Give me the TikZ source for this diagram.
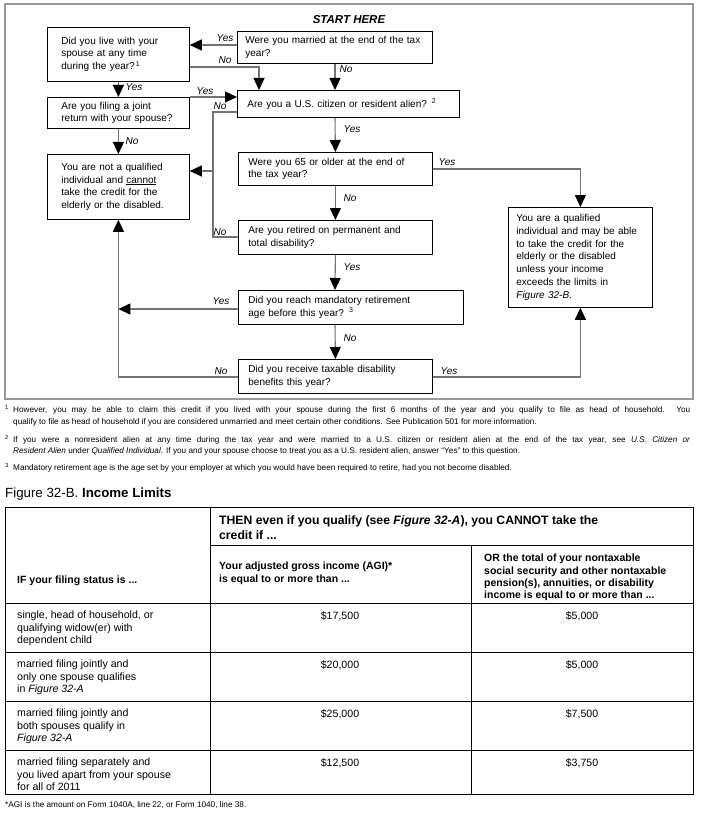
\documentclass[tikz,border=0pt]{standalone}
\usepackage{fontspec}
\setmainfont{Liberation Sans}
\usetikzlibrary{arrows.meta}
\definecolor{lineGray}{gray}{0.45}
\definecolor{frameGray}{gray}{0.6}
\newcommand\fcfont{\fontsize{10}{12.8}\selectfont}
\newcommand\tbfont{\fontsize{10.6}{12.4}\selectfont}
\newcommand\fnfont{\fontsize{8.2}{9}\selectfont}
\begin{document}
\begin{tikzpicture}[x=1pt,y=-1pt,
  qbox/.style={draw=black, line width=0.8pt, anchor=north west, align=left, inner xsep=#1, inner ysep=0pt, font=\fcfont},
  conn/.style={draw=lineGray, line width=1.1pt, -{Triangle[width=11pt,length=12pt,color=black]}},
  plainline/.style={draw=lineGray, line width=1.1pt},
  lbl/.style={font=\fcfont\itshape, inner sep=0pt},
  ttext/.style={anchor=north west, align=left, inner sep=0pt, font=\tbfont},
  tline/.style={draw=black, line width=0.8pt},
  fn/.style={anchor=base west, inner sep=0pt, font=\fnfont}]
\useasboundingbox (0,0) rectangle (701,813);
\fill[white] (0,0) rectangle (701,813);
% frame
\draw[frameGray, line width=1.4pt] (5,4) rectangle (693,399);
\node[font=\fontsize{11.5}{13}\selectfont\bfseries\itshape] (start) at (349,20) {START HERE};
% boxes
\node[qbox=8pt, minimum width=195pt, minimum height=32pt, text width=179pt] (married) at (237,31) {Were you married at the end of the tax\\year?};
\node[qbox=14pt, minimum width=142pt, minimum height=54pt, text width=114pt] (live) at (47,27) {Did you live with your\\spouse at any time\\during the year?\textsuperscript{\,1}};
\node[qbox=10pt, minimum width=222pt, minimum height=27pt, text width=202pt] (citizen) at (237,90) {Are you a U.S. citizen or resident alien? \textsuperscript{2}};
\node[qbox=14pt, minimum width=142pt, minimum height=31pt, text width=114pt] (joint) at (47,97) {Are you filing a joint\\return with your spouse?};
\node[qbox=14pt, minimum width=142pt, minimum height=65pt, text width=114pt] (notq) at (47,154) {You are not a qualified\\individual and \underline{cannot}\\take the credit for the\\elderly or the disabled.};
\node[qbox=10pt, minimum width=194pt, minimum height=33pt, text width=174pt] (q65) at (238,152) {Were you 65 or older at the end of\\the tax year?};
\node[qbox=10pt, minimum width=194pt, minimum height=34pt, text width=174pt] (retired) at (238,220) {Are you retired on permanent and\\total disability?};
\node[qbox=8pt, minimum width=144pt, minimum height=100pt, text width=128pt] (qual) at (508,207) {You are a qualified\\individual and may be able\\to take the credit for the\\elderly or the disabled\\unless your income\\exceeds the limits in\\\textit{Figure 32-B}.};
\node[qbox=10pt, minimum width=225pt, minimum height=34pt, text width=205pt] (mand) at (238,290) {Did you reach mandatory retirement\\age before this year? \textsuperscript{3}};
\node[qbox=10pt, minimum width=194pt, minimum height=34pt, text width=174pt] (tax) at (238,359) {Did you receive taxable disability\\benefits this year?};
% helper coordinates
\coordinate (yA) at (0,45);
\coordinate (yB) at (0,67);
\coordinate (xB) at (259,0);
\coordinate (xC) at (335,0);
\coordinate (yE) at (0,112);
\coordinate (xF) at (213,0);
\coordinate (yG) at (0,237);
\coordinate (yH) at (0,171);
\coordinate (yI) at (0,169);
\coordinate (yK) at (0,309);
\coordinate (yL) at (0,377);
% connectors
\draw[conn] (married.west |- yA) -- (live.east |- yA);
\draw[conn] (live.east |- yB) -| (xB |- citizen.north);
\draw[conn] (xC |- married.south) -- (xC |- citizen.north);
\draw[conn] (live.south) -- (joint.north);
\draw[conn] (joint.north east) -- (citizen.west |- joint.north);
\draw[conn] (joint.south) -- (notq.north);
\draw[plainline] (citizen.west |- yE) -| (xF |- yG) -- (retired.west |- yG);
\draw[conn] (xF |- yH) -- (notq.east |- yH);
\draw[conn] (xC |- citizen.south) -- (q65.north);
\draw[conn] (q65.east |- yI) -| (qual.north);
\draw[conn] (q65.south) -- (retired.north);
\draw[conn] (retired.south) -- (xC |- mand.north);
\draw[conn] (mand.west |- yK) -- (live.south |- yK);
\draw[conn] (xC |- mand.south) -- (tax.north);
\draw[conn] (tax.west |- yL) -| (notq.south);
\draw[conn] (tax.east |- yL) -| (qual.south);
% labels
\node[lbl] (l1) at (225,38) {Yes};
\node[lbl] (l2) at (225,60) {No};
\node[lbl] (l3) at (346,69) {No};
\node[lbl] (l4) at (134,87) {Yes};
\node[lbl] (l5) at (205,91) {Yes};
\node[lbl] (l6) at (220,106) {No};
\node[lbl] (l7) at (132,141) {No};
\node[lbl] (l8) at (352,129) {Yes};
\node[lbl] (l9) at (447,162) {Yes};
\node[lbl] (l10) at (350,198) {No};
\node[lbl] (l11) at (220,232) {No};
\node[lbl] (l12) at (352,267) {Yes};
\node[lbl] (l13) at (221,301) {Yes};
\node[lbl] (l14) at (350,338) {No};
\node[lbl] (l15) at (221,371) {No};
\node[lbl] (l16) at (449,371) {Yes};
% footnotes
\node[fn] (f1a) at (5,412) {\makebox[8pt][l]{\textsuperscript{1}}\makebox[677pt][s]{However, you may be able to claim this credit if you lived with your spouse during the first 6 months of the year and you qualify to file as head of household. You}};
\node[fn] (f1b) at (13,424) {qualify to file as head of household if you are considered unmarried and meet certain other conditions. See Publication 501 for more information.};
\node[fn] (f2a) at (5,442) {\makebox[8pt][l]{\textsuperscript{2}}\makebox[677pt][s]{If you were a nonresident alien at any time during the tax year and were married to a U.S. citizen or resident alien at the end of the tax year, see \textit{U.S. Citizen or}}};
\node[fn] (f2b) at (13,453) {\textit{Resident Alien} under \textit{Qualified Individual}. If you and your spouse choose to treat you as a U.S. resident alien, answer ``Yes'' to this question.};
\node[fn] (f3) at (5,470) {\makebox[8pt][l]{\textsuperscript{3}}Mandatory retirement age is the age set by your employer at which you would have been required to retire, had you not become disabled.};
% table title
\node[anchor=north west, inner sep=0pt, font=\fontsize{13.3}{15}\selectfont] (ttl) at (5,488) {Figure 32-B. \textbf{Income Limits}};
% table lines
\draw[tline] (5,507) rectangle (693,794);
\draw[tline] (210,507) -- (210,794);
\draw[tline] (471,545) -- (471,794);
\draw[tline] (210,545) -- (693,545);
\foreach \r in {603,652,701,750} \draw[tline] (5,\r) -- (693,\r);
% header text
\node[ttext, font=\fontsize{12.2}{15}\selectfont\bfseries] (h1) at (219,515) {THEN even if you qualify (see \textit{Figure 32-A}), you CANNOT take the\\credit if ...};
\node[ttext, font=\fontsize{10.5}{13}\selectfont\bfseries] (h2) at (219,562) {Your adjusted gross income (AGI)*\\is equal to or more than ...};
\node[ttext, font=\fontsize{10.5}{12.3}\selectfont\bfseries] (h3) at (484,554) {OR the total of your nontaxable\\social security and other nontaxable\\pension(s), annuities, or disability\\income is equal to or more than ...};
\node[ttext, font=\fontsize{10.5}{13}\selectfont\bfseries] (h0) at (17,576) {IF your filing status is ...};
% rows
\node[ttext] (r1) at (17,611) {single, head of household, or\\qualifying widow(er) with\\dependent child};
\node[ttext] (r2) at (17,660) {married filing jointly and\\only one spouse qualifies\\in \textit{Figure 32-A}};
\node[ttext] (r3) at (17,709) {married filing jointly and\\both spouses qualify in\\\textit{Figure 32-A}};
\node[ttext] (r4) at (17,758) {married filing separately and\\you lived apart from your spouse\\for all of 2011};
\node[ttext, anchor=north] (a1) at (340,611) {\$17,500};
\node[ttext, anchor=north] (b1) at (582,611) {\$5,000};
\node[ttext, anchor=north] (a2) at (340,660) {\$20,000};
\node[ttext, anchor=north] (b2) at (582,660) {\$5,000};
\node[ttext, anchor=north] (a3) at (340,709) {\$25,000};
\node[ttext, anchor=north] (b3) at (582,709) {\$7,500};
\node[ttext, anchor=north] (a4) at (340,758) {\$12,500};
\node[ttext, anchor=north] (b4) at (582,758) {\$3,750};
\node[fn] (agi) at (5,807) {*AGI is the amount on Form 1040A, line 22, or Form 1040, line 38.};
\end{tikzpicture}
\end{document}
